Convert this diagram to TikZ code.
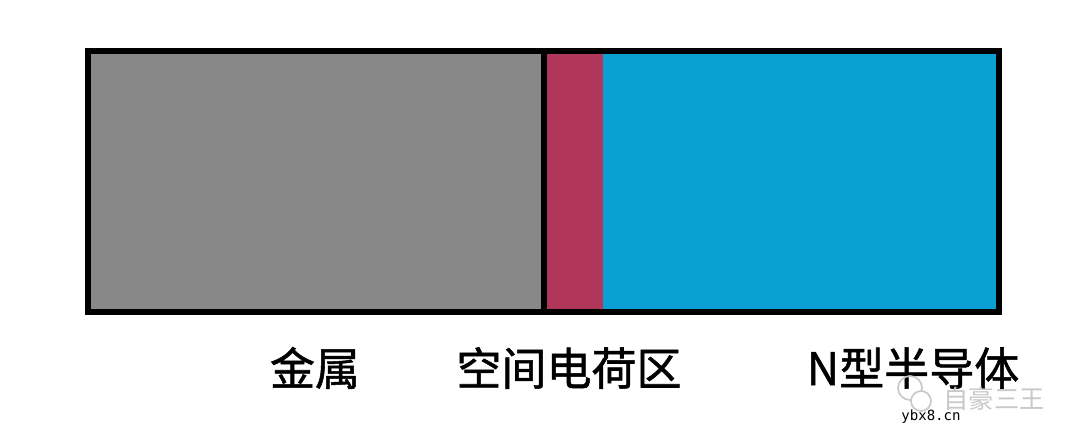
\documentclass[tikz,border=0pt]{standalone}
\usepackage{fontspec}
\newfontfamily\cjk[FakeBold=1.2]{Noto Sans CJK SC}
\newfontfamily\wmcjk{Noto Sans CJK SC}
\newfontfamily\wmmono{DejaVu Sans Mono}
\definecolor{metalgray}{RGB}{136,136,136}
\definecolor{chargered}{RGB}{176,54,90}
\definecolor{semiblue}{RGB}{10,160,212}
\definecolor{wmgray}{RGB}{200,200,200}
\tikzset{
    region label/.style={font=\cjk\fontsize{32}{36}\selectfont, inner sep=0pt},
    outline/.style={line width=0.15cm}
}

\begin{document}
\begin{tikzpicture}[x=0.025cm,y=-0.025cm]
        \useasboundingbox (0,0) rectangle (1080,447);
        \fill[metalgray] (88,51) rectangle (544,312); %Metal
        \fill[chargered] (544,51) rectangle (603,312); %Space charge region
        \fill[semiblue] (603,51) rectangle (999,312); %N-type semiconductor
        \draw[outline] (88,51) rectangle (999,312); %Outer frame
        \coordinate (junctiontop) at (544,51);
        \coordinate (junctionbot) at (544,312);
        \draw[outline] (junctiontop) -- (junctionbot); %Metal-semiconductor junction
        \node[region label] (metal) at (315,368) {金属};
        \node[region label] (charge) at (569,368) {空间电荷区};
        \node[region label] (ntype) at (913,368) {N型半导体};
        % watermark
        \draw[wmgray, line width=1.2pt] (910,388) circle (12);
        \draw[wmgray, line width=1.2pt, fill=white] (921,401) circle (10);
        \node[wmgray, font=\wmcjk\fontsize{18}{20}\selectfont, inner sep=0pt] (wmname) at (994,399) {自豪三王};
        \node[font=\wmmono\fontsize{10}{12}\selectfont, inner sep=0pt] (wmsite) at (931,417) {ybx8.cn};
    \end{tikzpicture}
\end{document}
